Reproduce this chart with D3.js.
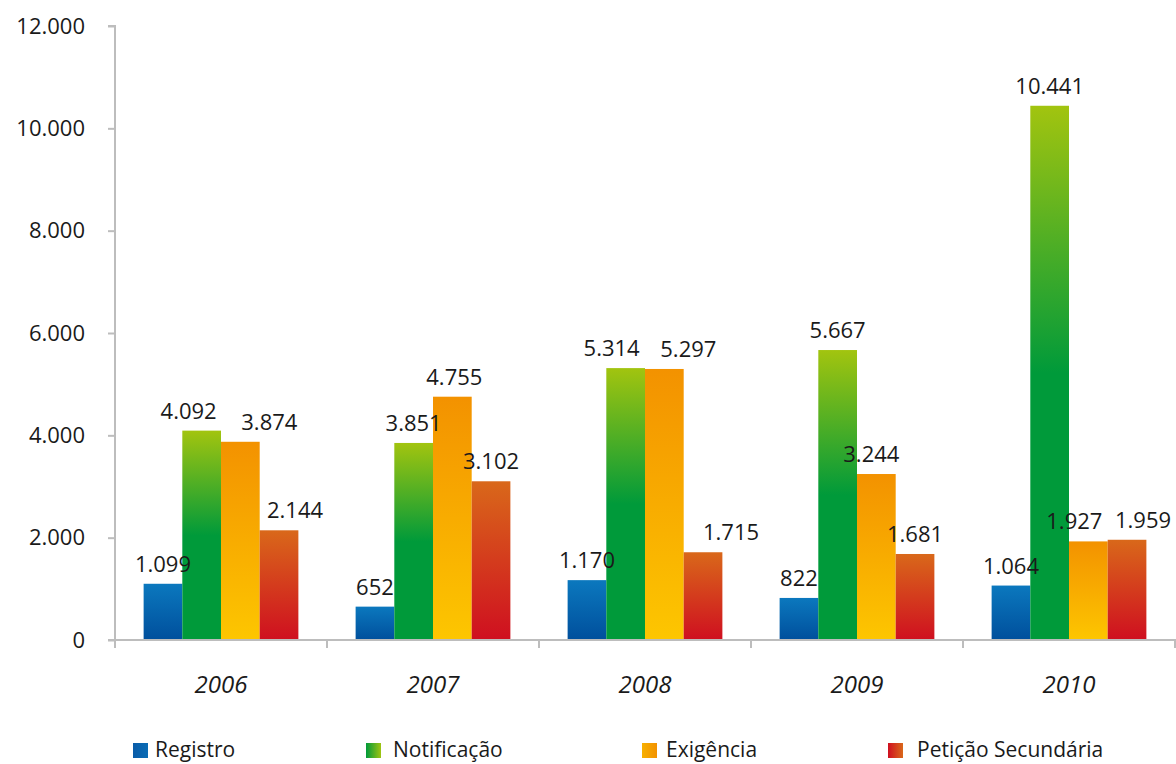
<!DOCTYPE html>
<html>
<head>
<meta charset="utf-8">
<script src="https://cdn.jsdelivr.net/npm/d3@7"></script>
<style>
  html, body { margin: 0; padding: 0; background: #fff; }
  svg text { font-family: "Open Sans", "Noto Sans", sans-serif; fill: #1a1a1a; }
</style>
</head>
<body>
<svg id="chart" width="1176" height="764"></svg>
<script>
// Yearly counts per request type
const years = ["2006", "2007", "2008", "2009", "2010"];
const seriesNames = ["Registro", "Notificação", "Exigência", "Petição Secundária"];
const registro     = [1099,  652, 1170,  822,  1064];
const notificacao  = [4092, 3851, 5314, 5667, 10441];
const exigencia    = [3874, 4755, 5297, 3244,  1927];
const peticao      = [2144, 3102, 1715, 1681,  1959];
const yTicks = [0, 2000, 4000, 6000, 8000, 10000, 12000];

const seriesValues = [registro, notificacao, exigencia, peticao];

// Horizontal nudges of value labels (per year, per series) so neighbours don't collide
const labelNudge = [
  [0, -13, 29, 16],
  [0, 0, 2, 0],
  [0, -14, 24, 28],
  [0, 0, -5, 0],
  [0, 0, -14, 16]
];

// Vertical gradient stops for each bar series (top -> bottom)
const barStops = [
  [["0%", "#0b78be"], ["100%", "#004f9c"]],
  [["0%", "#a2c40f"], ["50%", "#009a3a"], ["100%", "#009a3a"]],
  [["0%", "#f39200"], ["100%", "#fdc600"]],
  [["0%", "#d9681a"], ["100%", "#cf0f20"]]
];
// Horizontal gradient stops for legend swatches (left -> right)
const swatchStops = [
  [["0%", "#0a5ca8"], ["100%", "#0a6cb5"]],
  [["0%", "#009a3a"], ["100%", "#9fc412"]],
  [["0%", "#f7b000"], ["100%", "#f39200"]],
  [["0%", "#cf0f20"], ["100%", "#d9681a"]]
];
const legendX = [133, 366, 642, 888];
const legendTextDx = [22, 27, 24, 29];

const fmt = v => d3.format(",")(v).replace(/,/g, ".");

const svg = d3.select("#chart");
const defs = svg.append("defs");

barStops.forEach((stops, i) => {
  const g = defs.append("linearGradient").attr("id", "bar" + i)
    .attr("x1", 0).attr("y1", 0).attr("x2", 0).attr("y2", 1);
  stops.forEach(s => g.append("stop").attr("offset", s[0]).attr("stop-color", s[1]));
});
swatchStops.forEach((stops, i) => {
  const g = defs.append("linearGradient").attr("id", "sw" + i)
    .attr("x1", 0).attr("y1", 0).attr("x2", 1).attr("y2", 0);
  stops.forEach(s => g.append("stop").attr("offset", s[0]).attr("stop-color", s[1]));
});

const plotLeft = 115, plotRight = 1175, plotTop = 26, plotBottom = 640;

const x0 = d3.scaleBand().domain(years).range([plotLeft, plotRight])
  .paddingInner(0.27).paddingOuter(0.135);
const x1 = d3.scaleBand().domain(d3.range(seriesNames.length)).range([0, x0.bandwidth()]);
const y = d3.scaleLinear().domain([0, 12000]).range([plotBottom, plotTop]);

const axisColor = "#bdbdbd";

// Y axis
const yAxis = svg.append("g").attr("transform", `translate(${plotLeft},0)`)
  .call(d3.axisLeft(y).tickValues(yTicks).tickSize(7).tickPadding(23).tickFormat(fmt));
yAxis.select(".domain").attr("stroke", axisColor).attr("stroke-width", 2)
  .attr("d", `M-7,${plotTop}H0V${plotBottom}`);
yAxis.selectAll(".tick line").attr("stroke", axisColor).attr("stroke-width", 2);
yAxis.selectAll(".tick text").attr("font-size", 22).attr("fill", "#1a1a1a")
  .attr("font-family", "'Open Sans', sans-serif");

// Bars
const cells = [];
years.forEach((year, yi) => {
  seriesValues.forEach((vals, si) => cells.push({ year, yi, si, v: vals[yi] }));
});

svg.append("g").selectAll("rect").data(cells).join("rect")
  .attr("x", d => x0(d.year) + x1(d.si))
  .attr("width", x1.bandwidth())
  .attr("y", d => y(d.v))
  .attr("height", d => y(0) - y(d.v))
  .attr("fill", d => `url(#bar${d.si})`);

// Value labels (above all bars)
svg.append("g").selectAll("text").data(cells).join("text")
  .attr("x", d => x0(d.year) + x1(d.si) + x1.bandwidth() / 2 + labelNudge[d.yi][d.si])
  .attr("y", d => y(d.v) - 12)
  .attr("text-anchor", "middle")
  .attr("font-size", 22)
  .text(d => fmt(d.v));

// X axis
const xAxisG = svg.append("g").attr("transform", `translate(0,${plotBottom})`);
xAxisG.append("line").attr("x1", plotLeft - 7).attr("x2", plotRight + 1)
  .attr("stroke", axisColor).attr("stroke-width", 2);
const boundaries = years.map(d => x0(d) - x0.step() * 0.135).concat([plotRight]);
xAxisG.selectAll("line.tk").data(boundaries).join("line").attr("class", "tk")
  .attr("x1", d => d).attr("x2", d => d).attr("y1", 0).attr("y2", 8)
  .attr("stroke", axisColor).attr("stroke-width", 2);
xAxisG.selectAll("text").data(years).join("text")
  .attr("x", d => x0(d) + x0.bandwidth() / 2)
  .attr("y", 53)
  .attr("text-anchor", "middle")
  .attr("font-size", 24)
  .attr("font-style", "italic")
  .text(d => d);

// Legend
const legend = svg.append("g").selectAll("g").data(seriesNames).join("g")
  .attr("transform", (d, i) => `translate(${legendX[i]},743)`);
legend.append("rect").attr("width", 15).attr("height", 15)
  .attr("fill", (d, i) => `url(#sw${i})`);
legend.append("text").attr("x", (d, i) => legendTextDx[i])
  .attr("y", 14).attr("font-size", 21).text(d => d);
</script>
</body>
</html>
